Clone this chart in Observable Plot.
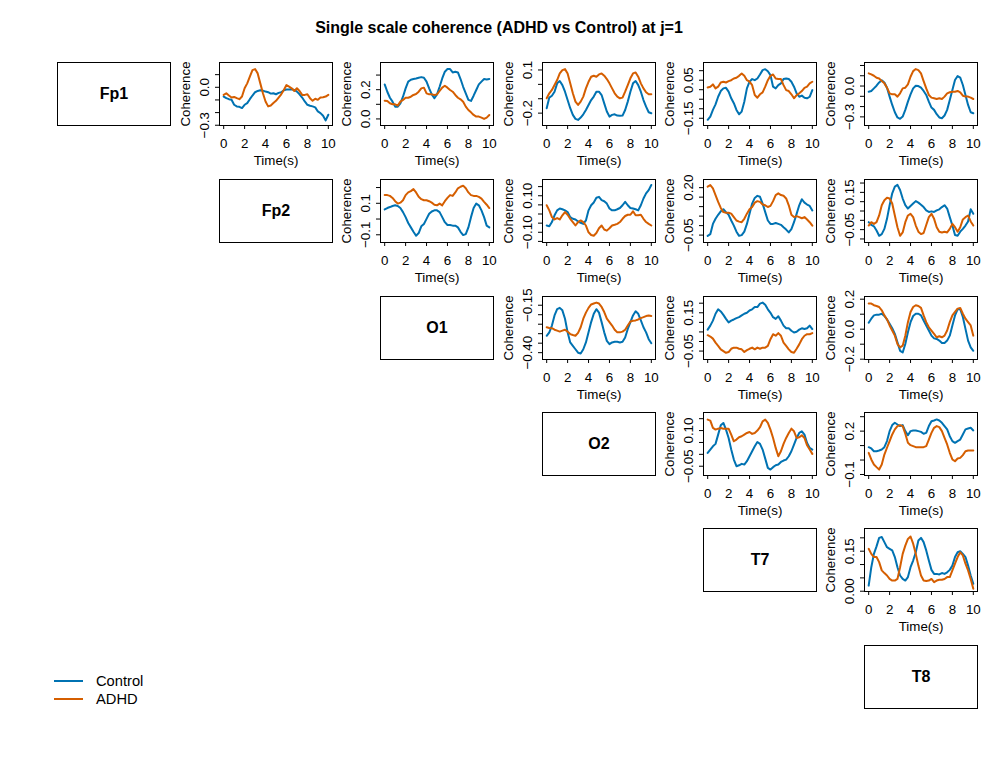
<!DOCTYPE html>
<html>
<head>
<meta charset="utf-8">
<script src="https://cdn.jsdelivr.net/npm/d3@7"></script>
<script src="https://cdn.jsdelivr.net/npm/@observablehq/plot@0.6"></script>
<style>
  html, body { margin: 0; padding: 0; background: #ffffff; }
  #chart { position: relative; width: 996px; height: 767px; overflow: hidden; background: #ffffff;
           font-family: "Liberation Sans", Arial, Helvetica, sans-serif; color: #000; }
  #chart > .cell { position: absolute; }
  #title { position: absolute; left: 0; top: 19.5px; width: 998px; text-align: center;
           font-size: 16px; line-height: 16px; font-weight: bold; }
  .leg { position: absolute; left: 54px; font-size: 14.7px; line-height: 18px; height: 18px; }
  .leg span.sw { position: absolute; left: 0; top: 8px; width: 29px; height: 2px; }
  .leg span.lb { position: absolute; left: 42px; top: 0; white-space: nowrap; }
</style>
</head>
<body>
<div id="chart"><div id="title">Single scale coherence (ADHD vs Control) at j=1</div></div>
<script>
// ---------------- data ----------------
const channels = ["Fp1", "Fp2", "O1", "O2", "T7", "T8"];
const seriesNames = ["Control", "ADHD"];
const seriesColors = ["#0072B2", "#D55E00"];
const time = [0,0.25,0.5,0.75,1,1.25,1.5,1.75,2,2.25,2.5,2.75,3,3.25,3.5,3.75,4,4.25,4.5,4.75,5,
              5.25,5.5,5.75,6,6.25,6.5,6.75,7,7.25,7.5,7.75,8,8.25,8.5,8.75,9,9.25,9.5,9.75,10];
const xTicks = [0, 2, 4, 6, 8, 10];

// Fp1 - Fp2
const ctl_Fp1_Fp2 = [-0.073,-0.086,-0.094,-0.099,-0.138,-0.151,-0.154,-0.164,-0.138,-0.125,-0.094,-0.065,-0.039,-0.029,-0.023,-0.026,-0.034,-0.039,-0.050,-0.047,-0.055,-0.044,-0.039,-0.023,-0.018,-0.018,-0.016,-0.021,-0.034,-0.055,-0.081,-0.112,-0.138,-0.146,-0.151,-0.159,-0.191,-0.204,-0.225,-0.262,-0.217];
const adhd_Fp1_Fp2 = [-0.060,-0.047,-0.065,-0.081,-0.076,-0.086,-0.094,-0.073,-0.008,0.031,0.084,0.136,0.144,0.110,0.031,-0.047,-0.112,-0.151,-0.144,-0.125,-0.107,-0.081,-0.055,-0.021,0.018,0.005,-0.008,-0.029,-0.008,-0.029,-0.060,-0.060,-0.055,-0.086,-0.107,-0.091,-0.099,-0.081,-0.078,-0.073,-0.060];
const ylim_Fp1_Fp2 = [-0.302, 0.196];
const yTicks_Fp1_Fp2 = [-0.3, -0.2, -0.1, 0, 0.1];
const yLabels_Fp1_Fp2 = ["−0.3", "0.0"];

// Fp1 - O1
const ctl_Fp1_O1 = [0.236,0.186,0.145,0.118,0.084,0.084,0.107,0.152,0.209,0.255,0.268,0.273,0.277,0.282,0.286,0.282,0.255,0.209,0.168,0.141,0.168,0.220,0.277,0.323,0.341,0.341,0.318,0.323,0.318,0.273,0.220,0.175,0.130,0.123,0.159,0.198,0.236,0.255,0.273,0.270,0.273];
const adhd_Fp1_O1 = [0.125,0.123,0.107,0.100,0.100,0.091,0.118,0.130,0.145,0.145,0.152,0.164,0.170,0.186,0.209,0.214,0.175,0.168,0.168,0.164,0.168,0.191,0.214,0.227,0.214,0.198,0.186,0.164,0.145,0.134,0.118,0.084,0.061,0.045,0.027,0.016,0.016,0.009,0.000,0.009,0.027];
const ylim_Fp1_O1 = [-0.045, 0.386];
const yTicks_Fp1_O1 = [0, 0.1, 0.2, 0.3];
const yLabels_Fp1_O1 = ["0.0", "0.2"];

// Fp1 - O2
const ctl_Fp1_O2 = [-0.166,-0.092,-0.079,-0.051,0.007,0.023,-0.005,-0.051,-0.109,-0.166,-0.212,-0.240,-0.247,-0.231,-0.208,-0.178,-0.143,-0.109,-0.085,-0.051,-0.051,-0.074,-0.132,-0.189,-0.224,-0.212,-0.208,-0.217,-0.219,-0.217,-0.178,-0.120,-0.051,0.007,0.023,-0.005,-0.051,-0.109,-0.155,-0.194,-0.201];
const adhd_Fp1_O2 = [-0.097,-0.062,-0.039,-0.005,0.030,0.076,0.099,0.106,0.076,0.007,-0.062,-0.120,-0.143,-0.120,-0.085,-0.028,0.018,0.053,0.060,0.053,0.069,0.076,0.060,0.037,0.007,-0.028,-0.062,-0.085,-0.097,-0.092,-0.051,-0.005,0.042,0.076,0.083,0.053,0.007,-0.028,-0.055,-0.069,-0.069];
const ylim_Fp1_O2 = [-0.286, 0.152];
const yTicks_Fp1_O2 = [-0.2, -0.1, 0, 0.1];
const yLabels_Fp1_O2 = ["−0.2", "0.1"];

// Fp1 - T7
const ctl_Fp1_T7 = [-0.158,-0.141,-0.106,-0.077,-0.037,-0.007,0.007,0.010,-0.010,-0.045,-0.071,-0.106,-0.129,-0.115,-0.063,0.007,0.042,0.056,0.050,0.059,0.080,0.103,0.108,0.097,0.077,0.016,0.007,0.024,0.033,0.056,0.059,0.056,0.042,0.016,-0.019,-0.037,-0.031,-0.042,-0.045,-0.037,-0.002];
const adhd_Fp1_T7 = [0.012,0.016,0.028,0.007,0.016,0.038,0.042,0.038,0.045,0.050,0.059,0.063,0.073,0.085,0.073,0.050,0.042,0.024,-0.028,-0.042,-0.024,-0.014,0.016,0.050,0.073,0.080,0.059,0.056,0.056,0.024,-0.002,-0.007,-0.024,-0.045,-0.028,-0.019,-0.007,0.010,0.016,0.033,0.042];
const ylim_Fp1_T7 = [-0.188, 0.143];
const yTicks_Fp1_T7 = [-0.15, -0.1, -0.05, 0, 0.05, 0.1];
const yLabels_Fp1_T7 = ["−0.15", "0.05"];

// Fp1 - T8
const ctl_Fp1_T8 = [-0.055,-0.048,-0.023,0.003,0.035,0.055,0.035,-0.016,-0.103,-0.184,-0.255,-0.306,-0.319,-0.297,-0.232,-0.152,-0.081,-0.023,0.003,0.000,-0.016,-0.048,-0.087,-0.152,-0.210,-0.232,-0.274,-0.306,-0.313,-0.287,-0.232,-0.135,-0.039,0.058,0.097,0.081,0.010,-0.087,-0.184,-0.255,-0.265];
const adhd_Fp1_T8 = [0.123,0.113,0.100,0.081,0.074,0.048,0.026,-0.016,-0.071,-0.081,-0.081,-0.103,-0.071,-0.023,-0.016,0.016,0.090,0.145,0.165,0.155,0.123,0.048,-0.023,-0.087,-0.113,-0.119,-0.126,-0.119,-0.126,-0.103,-0.071,-0.061,-0.055,-0.055,-0.048,-0.061,-0.094,-0.103,-0.103,-0.113,-0.126];
const ylim_Fp1_T8 = [-0.384, 0.229];
const yTicks_Fp1_T8 = [-0.3, -0.2, -0.1, 0, 0.1, 0.2];
const yLabels_Fp1_T8 = ["−0.3", "0.0"];

// Fp2 - O1
const ctl_Fp2_O1 = [0.061,0.070,0.076,0.083,0.087,0.083,0.070,0.044,0.012,-0.025,-0.053,-0.081,-0.106,-0.089,-0.046,-0.031,0.001,0.033,0.048,0.055,0.055,0.044,0.012,-0.020,-0.038,-0.038,-0.042,-0.042,-0.053,-0.081,-0.102,-0.096,-0.053,0.012,0.070,0.098,0.087,0.055,0.012,-0.042,-0.053];
const adhd_Fp2_O1 = [0.152,0.152,0.147,0.134,0.113,0.098,0.104,0.119,0.152,0.169,0.177,0.190,0.169,0.141,0.126,0.119,0.119,0.113,0.104,0.091,0.087,0.098,0.087,0.113,0.134,0.152,0.147,0.169,0.195,0.205,0.212,0.195,0.169,0.152,0.147,0.147,0.141,0.130,0.109,0.091,0.070];
const ylim_Fp2_O1 = [-0.149, 0.251];
const yTicks_Fp2_O1 = [-0.1, 0, 0.1, 0.2];
const yLabels_Fp2_O1 = ["−0.1", "0.1"];

// Fp2 - O2
const ctl_Fp2_O2 = [-0.063,-0.067,-0.044,-0.007,0.020,0.030,0.026,0.020,0.011,-0.017,-0.026,-0.030,-0.041,-0.048,-0.054,-0.035,0.020,0.048,0.063,0.089,0.094,0.076,0.070,0.057,0.030,0.020,0.020,0.026,0.033,0.048,0.067,0.048,0.033,0.030,0.026,0.020,0.048,0.085,0.113,0.131,0.159];
const adhd_Fp2_O2 = [0.048,0.020,-0.017,-0.030,-0.022,-0.030,-0.007,0.011,-0.004,-0.026,-0.044,-0.063,-0.044,-0.035,-0.044,-0.063,-0.100,-0.115,-0.119,-0.104,-0.078,-0.063,-0.085,-0.091,-0.078,-0.063,-0.059,-0.054,-0.044,-0.026,-0.011,-0.004,-0.004,0.015,-0.007,-0.007,-0.004,-0.026,-0.044,-0.054,-0.063];
const ylim_Fp2_O2 = [-0.156, 0.189];
const yTicks_Fp2_O2 = [-0.15, -0.1, -0.05, 0, 0.05, 0.1, 0.15];
const yLabels_Fp2_O2 = ["−0.10", "0.10"];

// Fp2 - T7
const ctl_Fp2_T7 = [-0.054,-0.045,0.009,0.036,0.057,0.075,0.086,0.071,0.057,0.027,0.000,-0.032,-0.054,-0.050,-0.032,0.009,0.062,0.116,0.146,0.157,0.152,0.116,0.071,0.027,0.009,0.009,0.014,0.009,0.004,-0.009,-0.021,-0.036,-0.018,0.018,0.062,0.107,0.139,0.121,0.111,0.104,0.080];
const adhd_Fp2_T7 = [0.205,0.214,0.196,0.161,0.125,0.093,0.071,0.068,0.068,0.063,0.045,0.027,0.021,0.018,0.036,0.063,0.086,0.098,0.121,0.129,0.125,0.111,0.107,0.098,0.104,0.129,0.161,0.170,0.161,0.157,0.143,0.107,0.057,0.045,0.050,0.045,0.039,0.045,0.032,0.018,0.000];
const ylim_Fp2_T7 = [-0.089, 0.243];
const yTicks_Fp2_T7 = [-0.05, 0, 0.05, 0.1, 0.15, 0.2];
const yLabels_Fp2_T7 = ["−0.05", "0.20"];

// Fp2 - T8
const ctl_Fp2_T8 = [-0.010,-0.025,-0.032,-0.055,-0.083,-0.074,-0.046,0.008,0.081,0.145,0.181,0.190,0.163,0.117,0.081,0.063,0.077,0.090,0.103,0.095,0.084,0.071,0.053,0.045,0.048,0.045,0.053,0.059,0.071,0.081,0.063,0.017,-0.028,-0.079,-0.083,-0.061,-0.046,-0.028,-0.006,0.059,0.035];
const adhd_Fp2_T8 = [-0.028,-0.010,-0.019,-0.010,0.026,0.081,0.108,0.121,0.117,0.090,0.026,-0.037,-0.083,-0.065,-0.010,0.026,0.035,0.017,-0.028,-0.061,-0.074,-0.068,-0.025,0.017,0.035,0.008,-0.037,-0.061,-0.065,-0.061,-0.065,-0.046,-0.019,-0.037,-0.061,-0.037,0.005,0.017,0.026,-0.006,-0.028];
const ylim_Fp2_T8 = [-0.119, 0.219];
const yTicks_Fp2_T8 = [-0.1, -0.05, 0, 0.05, 0.1, 0.15, 0.2];
const yLabels_Fp2_T8 = ["−0.05", "0.15"];

// O1 - O2
const ctl_O1_O2 = [-0.311,-0.293,-0.257,-0.204,-0.171,-0.164,-0.177,-0.221,-0.293,-0.346,-0.364,-0.382,-0.400,-0.404,-0.382,-0.346,-0.293,-0.239,-0.195,-0.171,-0.189,-0.239,-0.293,-0.338,-0.355,-0.346,-0.343,-0.343,-0.346,-0.343,-0.320,-0.275,-0.239,-0.204,-0.182,-0.195,-0.230,-0.266,-0.293,-0.329,-0.350];
const adhd_O1_O2 = [-0.266,-0.270,-0.271,-0.279,-0.284,-0.289,-0.284,-0.279,-0.289,-0.302,-0.307,-0.311,-0.296,-0.266,-0.221,-0.189,-0.164,-0.146,-0.141,-0.136,-0.141,-0.159,-0.186,-0.221,-0.239,-0.257,-0.279,-0.293,-0.293,-0.289,-0.279,-0.257,-0.236,-0.232,-0.230,-0.225,-0.218,-0.213,-0.207,-0.204,-0.207];
const ylim_O1_O2 = [-0.436, -0.104];
const yTicks_O1_O2 = [-0.4, -0.35, -0.3, -0.25, -0.2, -0.15];
const yLabels_O1_O2 = ["−0.40", "−0.15"];

// O1 - T7
const ctl_O1_T7 = [0.062,0.083,0.109,0.145,0.168,0.157,0.139,0.118,0.100,0.109,0.115,0.122,0.127,0.136,0.145,0.150,0.162,0.168,0.180,0.180,0.198,0.203,0.192,0.168,0.150,0.127,0.118,0.132,0.109,0.083,0.069,0.069,0.056,0.047,0.051,0.062,0.069,0.065,0.069,0.083,0.065];
const adhd_O1_T7 = [0.033,0.026,0.015,-0.006,-0.023,-0.041,-0.050,-0.059,-0.055,-0.038,-0.032,-0.032,-0.038,-0.041,-0.055,-0.045,-0.038,-0.032,-0.041,-0.032,-0.038,-0.032,-0.032,-0.023,0.012,0.038,0.030,0.044,0.030,-0.006,-0.023,-0.041,-0.055,-0.059,-0.038,-0.015,0.012,0.030,0.038,0.038,0.044];
const ylim_O1_T7 = [-0.094, 0.235];
const yTicks_O1_T7 = [-0.05, 0, 0.05, 0.1, 0.15, 0.2];
const yLabels_O1_T7 = ["−0.05", "0.15"];

// O1 - T8
const ctl_O1_T8 = [0.043,0.070,0.092,0.097,0.097,0.103,0.088,0.065,0.036,0.007,-0.031,-0.088,-0.144,-0.155,-0.099,-0.020,0.047,0.088,0.103,0.103,0.092,0.058,0.025,-0.009,-0.043,-0.061,-0.065,-0.076,-0.092,-0.092,-0.076,-0.043,0.025,0.092,0.133,0.133,0.081,0.002,-0.076,-0.121,-0.144];
const adhd_O1_T8 = [0.171,0.171,0.160,0.155,0.148,0.126,0.092,0.065,0.025,-0.009,-0.043,-0.099,-0.121,-0.110,-0.043,0.047,0.115,0.148,0.160,0.155,0.142,0.092,0.047,0.013,-0.009,-0.031,-0.054,-0.047,-0.054,-0.043,-0.009,0.047,0.092,0.115,0.137,0.142,0.103,0.070,0.047,0.025,-0.043];
const ylim_O1_T8 = [-0.202, 0.218];
const yTicks_O1_T8 = [-0.2, -0.1, 0, 0.1, 0.2];
const yLabels_O1_T8 = ["−0.2", "0.0", "0.2"];

// O2 - T7
const ctl_O2_T7 = [0.006,0.020,0.034,0.044,0.083,0.122,0.132,0.104,0.069,0.020,-0.022,-0.050,-0.046,-0.040,-0.043,-0.029,-0.008,0.013,0.034,0.052,0.044,0.020,-0.018,-0.057,-0.064,-0.054,-0.046,-0.043,-0.032,-0.026,-0.022,-0.008,0.013,0.041,0.069,0.090,0.097,0.083,0.048,0.027,0.020];
const adhd_O2_T7 = [0.146,0.142,0.111,0.104,0.108,0.111,0.108,0.108,0.108,0.083,0.055,0.062,0.072,0.076,0.083,0.090,0.094,0.086,0.090,0.100,0.114,0.139,0.146,0.132,0.104,0.069,0.027,-0.008,0.013,0.044,0.069,0.090,0.108,0.097,0.069,0.072,0.080,0.069,0.038,0.020,0.002];
const ylim_O2_T7 = [-0.089, 0.176];
const yTicks_O2_T7 = [-0.05, 0, 0.05, 0.1, 0.15];
const yLabels_O2_T7 = ["−0.05", "0.10"];

// O2 - T8
const ctl_O2_T8 = [0.089,0.080,0.061,0.061,0.066,0.073,0.089,0.131,0.200,0.242,0.258,0.246,0.235,0.242,0.200,0.172,0.200,0.205,0.205,0.200,0.195,0.182,0.188,0.235,0.269,0.274,0.281,0.274,0.258,0.235,0.212,0.165,0.131,0.119,0.131,0.142,0.177,0.212,0.218,0.223,0.205];
const adhd_O2_T8 = [0.050,0.004,-0.031,-0.049,-0.066,-0.031,0.038,0.085,0.131,0.177,0.212,0.235,0.242,0.235,0.182,0.119,0.103,0.096,0.089,0.089,0.089,0.089,0.096,0.142,0.188,0.223,0.235,0.228,0.200,0.154,0.108,0.050,0.004,-0.008,0.011,0.015,0.034,0.061,0.066,0.066,0.066];
const ylim_O2_T8 = [-0.107, 0.329];
const yTicks_O2_T8 = [-0.1, 0, 0.1, 0.2, 0.3];
const yLabels_O2_T8 = ["−0.1", "0.2"];

// T7 - T8
const ctl_T7_T8 = [0.021,0.090,0.140,0.168,0.200,0.203,0.184,0.165,0.159,0.153,0.128,0.090,0.059,0.046,0.040,0.053,0.090,0.115,0.146,0.190,0.200,0.184,0.153,0.115,0.080,0.065,0.065,0.063,0.068,0.065,0.071,0.080,0.096,0.128,0.146,0.150,0.140,0.128,0.096,0.059,0.028];
const adhd_T7_T8 = [0.159,0.140,0.128,0.128,0.109,0.078,0.068,0.059,0.046,0.040,0.040,0.046,0.090,0.140,0.171,0.196,0.205,0.178,0.140,0.096,0.059,0.040,0.038,0.040,0.046,0.034,0.040,0.043,0.043,0.046,0.053,0.053,0.078,0.103,0.128,0.146,0.134,0.103,0.078,0.046,0.009];
const ylim_T7_T8 = [-0.001, 0.235];
const yTicks_T7_T8 = [0, 0.05, 0.1, 0.15, 0.2];
const yLabels_T7_T8 = ["0.00", "0.15"];

// table of panels built from the named arrays above
const panels = [
  [0, 1, ctl_Fp1_Fp2, adhd_Fp1_Fp2, ylim_Fp1_Fp2, yTicks_Fp1_Fp2, yLabels_Fp1_Fp2],
  [0, 2, ctl_Fp1_O1,  adhd_Fp1_O1,  ylim_Fp1_O1,  yTicks_Fp1_O1,  yLabels_Fp1_O1],
  [0, 3, ctl_Fp1_O2,  adhd_Fp1_O2,  ylim_Fp1_O2,  yTicks_Fp1_O2,  yLabels_Fp1_O2],
  [0, 4, ctl_Fp1_T7,  adhd_Fp1_T7,  ylim_Fp1_T7,  yTicks_Fp1_T7,  yLabels_Fp1_T7],
  [0, 5, ctl_Fp1_T8,  adhd_Fp1_T8,  ylim_Fp1_T8,  yTicks_Fp1_T8,  yLabels_Fp1_T8],
  [1, 2, ctl_Fp2_O1,  adhd_Fp2_O1,  ylim_Fp2_O1,  yTicks_Fp2_O1,  yLabels_Fp2_O1],
  [1, 3, ctl_Fp2_O2,  adhd_Fp2_O2,  ylim_Fp2_O2,  yTicks_Fp2_O2,  yLabels_Fp2_O2],
  [1, 4, ctl_Fp2_T7,  adhd_Fp2_T7,  ylim_Fp2_T7,  yTicks_Fp2_T7,  yLabels_Fp2_T7],
  [1, 5, ctl_Fp2_T8,  adhd_Fp2_T8,  ylim_Fp2_T8,  yTicks_Fp2_T8,  yLabels_Fp2_T8],
  [2, 3, ctl_O1_O2,   adhd_O1_O2,   ylim_O1_O2,   yTicks_O1_O2,   yLabels_O1_O2],
  [2, 4, ctl_O1_T7,   adhd_O1_T7,   ylim_O1_T7,   yTicks_O1_T7,   yLabels_O1_T7],
  [2, 5, ctl_O1_T8,   adhd_O1_T8,   ylim_O1_T8,   yTicks_O1_T8,   yLabels_O1_T8],
  [3, 4, ctl_O2_T7,   adhd_O2_T7,   ylim_O2_T7,   yTicks_O2_T7,   yLabels_O2_T7],
  [3, 5, ctl_O2_T8,   adhd_O2_T8,   ylim_O2_T8,   yTicks_O2_T8,   yLabels_O2_T8],
  [4, 5, ctl_T7_T8,   adhd_T7_T8,   ylim_T7_T8,   yTicks_T7_T8,   yLabels_T7_T8]
];

// ---------------- layout ----------------
const FONT = '"Liberation Sans", Arial, Helvetica, sans-serif';
const colX = [57, 219, 380, 542, 703, 864];
const rowY = [62, 179, 296, 412, 528, 645];
const W = 113, H = 63;
const ML = 50, MR = 12, MT = 8, MB = 46;
const chart = document.getElementById("chart");

function place(node, left, top) {
  const wrap = document.createElement("div");
  wrap.className = "cell";
  wrap.style.left = left + "px";
  wrap.style.top = top + "px";
  wrap.appendChild(node);
  chart.appendChild(wrap);
}

const toNum = s => +s.replace("−", "-");

panels.forEach(([r, c, ctl, adhd, ylim, yTicks, yLabels]) => {
  const lo = Math.min(ylim[0], ylim[1]) - 1e-9, hi = Math.max(ylim[0], ylim[1]) + 1e-9;
  const ticksIn = yTicks.filter(v => v >= lo && v <= hi);
  const svg = Plot.plot({
    width: ML + W + MR, height: MT + H + MB,
    marginLeft: ML, marginRight: MR, marginTop: MT, marginBottom: MB,
    x: {domain: [-0.4, 10.4]},
    y: {domain: ylim},
    style: {fontFamily: FONT, fontSize: "13.33px", color: "#000", background: "transparent", overflow: "visible"},
    marks: [
      Plot.axisX({ticks: xTicks, tickSize: 4, tickPadding: 9, tickFormat: d => String(d), label: null, fontSize: 13.33}),
      Plot.axisY({ticks: ticksIn, tickSize: 4, tickFormat: () => "", label: null}),
      Plot.text(yLabels, {y: toNum, text: d => d, frameAnchor: "left", dx: -15, rotate: -90,
                          textAnchor: "middle", lineAnchor: "middle", fontSize: 13.33}),
      Plot.text(["Coherence"], {text: d => d, frameAnchor: "left", dx: -34, rotate: -90,
                                textAnchor: "middle", lineAnchor: "middle", fontSize: 13.33}),
      Plot.text(["Time(s)"], {text: d => d, frameAnchor: "bottom", dy: 35,
                              textAnchor: "middle", lineAnchor: "middle", fontSize: 13.33}),
      Plot.lineY(ctl, {x: time, stroke: seriesColors[0], strokeWidth: 2, strokeLinejoin: "round"}),
      Plot.lineY(adhd, {x: time, stroke: seriesColors[1], strokeWidth: 2, strokeLinejoin: "round"}),
      Plot.frame({stroke: "#000", strokeWidth: 1})
    ]
  });
  place(svg, colX[c] - ML, rowY[r] - MT);
});

// diagonal channel boxes
channels.forEach((name, i) => {
  const svg = Plot.plot({
    width: W + 2, height: H + 2, margin: 1,
    x: {domain: [0, 1], axis: null}, y: {domain: [0, 1], axis: null},
    style: {fontFamily: FONT, color: "#000", background: "transparent", overflow: "visible"},
    marks: [
      Plot.frame({stroke: "#000", strokeWidth: 1}),
      Plot.text([name], {text: d => d, frameAnchor: "middle", fontSize: 16, fontWeight: "bold", lineAnchor: "middle"})
    ]
  });
  place(svg, colX[i] - 1, rowY[i] - 1);
});

// legend
seriesNames.forEach((name, i) => {
  const row = document.createElement("div");
  row.className = "leg";
  row.style.top = (672 + i * 18) + "px";
  row.style.width = "120px";
  row.innerHTML = `<span class="sw" style="background:${seriesColors[i]}"></span><span class="lb">${name}</span>`;
  chart.appendChild(row);
});
</script>
</body>
</html>
